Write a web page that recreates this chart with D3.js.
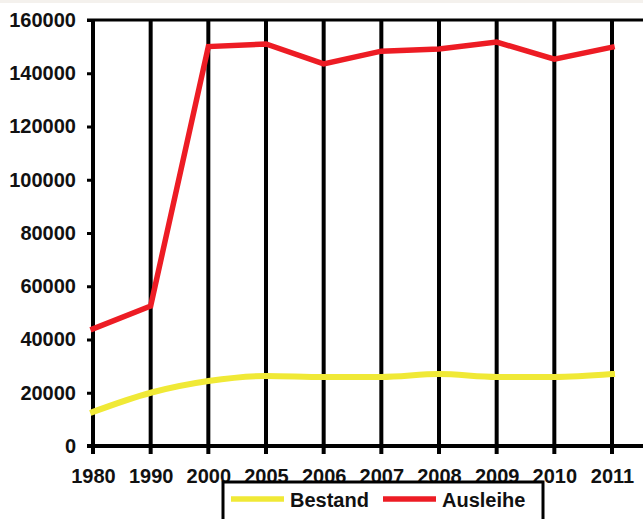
<!DOCTYPE html>
<html>
<head>
<meta charset="utf-8">
<script src="https://cdn.jsdelivr.net/npm/d3@7"></script>
<style>
  body { margin: 0; background: #fff; }
  text { font-family: "Liberation Sans", Arial, sans-serif; font-weight: bold; fill: #111; }
</style>
</head>
<body>
<svg id="chart"></svg>
<script>
var years = ["1980", "1990", "2000", "2005", "2006", "2007", "2008", "2009", "2010", "2011"];
var bestand = [12800, 20000, 24400, 26300, 25900, 25900, 27000, 25900, 25900, 27000];
var ausleihe = [44000, 52600, 150000, 151000, 143500, 148300, 149100, 151700, 145300, 149800];
var yTicks = [0, 20000, 40000, 60000, 80000, 100000, 120000, 140000, 160000];

var width = 643, height = 519;
var margin = {top: 20, left: 93, bottom: 446};

var svg = d3.select('#chart')
    .attr('width', width)
    .attr('height', height);

// light band at the very top
svg.append("rect")
    .attr("width", width)
    .attr("height", 3)
    .attr("fill", "#f4f1ed");

var x = d3.scalePoint()
    .domain(years)
    .range([margin.left, 612]);

var y = d3.scaleLinear()
    .domain([0, 160000])
    .range([margin.bottom, margin.top]);

// vertical grid lines at each category
svg.append("g")
    .selectAll("line")
    .data(years)
    .enter()
    .append("line")
        .attr("x1", d => x(d))
        .attr("x2", d => x(d))
        .attr("y1", y(160000))
        .attr("y2", y(0) + 8)
        .attr("stroke", "#000")
        .attr("stroke-width", 4);

// top border
svg.append("line")
    .attr("x1", margin.left - 6)
    .attr("x2", width)
    .attr("y1", y(160000))
    .attr("y2", y(160000))
    .attr("stroke", "#000")
    .attr("stroke-width", 3);

// y axis
var yAxis = svg.append("g")
    .attr("transform", "translate(" + margin.left + ",0)")
    .call(d3.axisLeft(y).tickValues(yTicks).tickSize(6).tickPadding(11).tickFormat(d3.format("d")));
yAxis.select(".domain").remove();
yAxis.selectAll(".tick line").attr("stroke", "#000").attr("stroke-width", 3);
yAxis.selectAll("text")
    .style("font-size", "20px")
    .attr("fill", "#111");

// x axis
var xAxis = svg.append("g")
    .attr("transform", "translate(0," + y(0) + ")")
    .call(d3.axisBottom(x).tickSize(0).tickPadding(23));
xAxis.select(".domain").remove();
xAxis.selectAll("text")
    .style("font-size", "20px")
    .attr("fill", "#111");

svg.append("line")
    .attr("x1", margin.left - 6)
    .attr("x2", width)
    .attr("y1", y(0))
    .attr("y2", y(0))
    .attr("stroke", "#000")
    .attr("stroke-width", 4);

// lines
var lineStraight = d3.line()
    .x((d, i) => x(years[i]))
    .y(d => y(d));

var lineSmooth = d3.line()
    .x((d, i) => x(years[i]))
    .y(d => y(d))
    .curve(d3.curveMonotoneX);

svg.append("path")
    .datum(bestand)
    .attr("fill", "none")
    .attr("stroke", "#f0e936")
    .attr("stroke-width", 6)
    .attr("stroke-linecap", "square")
    .attr("d", lineSmooth);

svg.append("path")
    .datum(ausleihe)
    .attr("fill", "none")
    .attr("stroke", "#ed1c24")
    .attr("stroke-width", 5.5)
    .attr("stroke-linejoin", "miter")
    .attr("stroke-linecap", "square")
    .attr("d", lineStraight);

// legend
var legend = svg.append("g");
legend.append("rect")
    .attr("x", 223)
    .attr("y", 482)
    .attr("width", 320)
    .attr("height", 60)
    .attr("fill", "#fff")
    .attr("stroke", "#000")
    .attr("stroke-width", 3);

var series = [
    {name: "Bestand", color: "#f0e936", x: 231},
    {name: "Ausleihe", color: "#ed1c24", x: 383}
];

series.forEach(function(s) {
    legend.append("line")
        .attr("x1", s.x)
        .attr("x2", s.x + 53)
        .attr("y1", 499)
        .attr("y2", 499)
        .attr("stroke", s.color)
        .attr("stroke-width", 5.5);
    legend.append("text")
        .attr("x", s.x + 59)
        .attr("y", 507)
        .style("font-size", "20px")
        .text(s.name);
});
</script>
</body>
</html>
